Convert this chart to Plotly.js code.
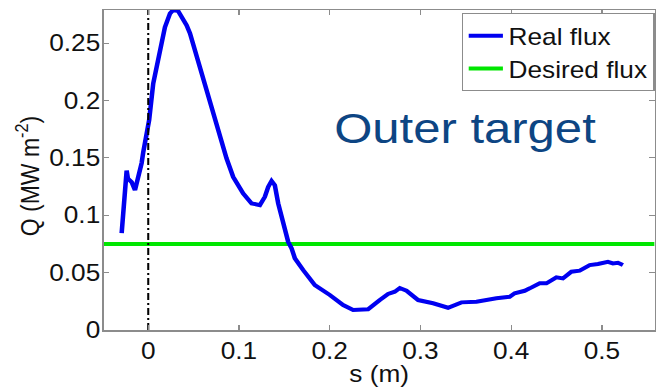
<!DOCTYPE html>
<html>
<head>
<meta charset="utf-8">
<script src="https://cdn.plot.ly/plotly-3.0.1.min.js"></script>
<style>
  html, body { margin: 0; padding: 0; background: #fff; overflow: hidden; }
  /* figure is laid out narrower and widened horizontally, giving the
     broad Arial lettering of the exported figure */
  #plot { width: 577px; height: 387px; transform: scaleX(1.1404); transform-origin: 0 0; }
</style>
</head>
<body>
<div id="plot"></div>
<script>
// Heat flux profile along the outer divertor target
const s = [
  -0.0293, -0.0238, -0.0224, -0.0183, -0.0146, -0.011, -0.0073, -0.0055, -0.0018, 0.001,
  0.0055, 0.0129, 0.0184, 0.024, 0.0275, 0.033, 0.0368, 0.0423, 0.046, 0.0514,
  0.0606, 0.068, 0.077, 0.0863, 0.0936, 0.1046, 0.1139, 0.123, 0.1285, 0.1322,
  0.1359, 0.1395, 0.1432, 0.1487, 0.1542, 0.158, 0.1616, 0.1707, 0.1836, 0.2001,
  0.2148, 0.2258, 0.2423, 0.2552, 0.2643, 0.2717, 0.2772, 0.2846, 0.2974, 0.3139,
  0.3304, 0.3452, 0.3617, 0.3837, 0.3983, 0.4038, 0.4149, 0.4204, 0.4314, 0.4388,
  0.4498, 0.457, 0.4663, 0.4755, 0.4865, 0.4956, 0.5066, 0.5121, 0.5176, 0.5231
];
const realFlux = [
  0.0845, 0.139, 0.132, 0.129, 0.122, 0.132, 0.1455, 0.155, 0.1716, 0.183,
  0.215, 0.244, 0.264, 0.276, 0.279, 0.278, 0.273, 0.2657, 0.2587, 0.244,
  0.2207, 0.2003, 0.1742, 0.1496, 0.1335, 0.119, 0.1104, 0.1089, 0.1161, 0.1248,
  0.130, 0.1263, 0.1104, 0.093, 0.0769, 0.0712, 0.0625, 0.0523, 0.0392, 0.0305,
  0.0218, 0.0174, 0.018, 0.0261, 0.0314, 0.0334, 0.0366, 0.0342, 0.0261, 0.0233,
  0.0194, 0.0241, 0.0247, 0.0276, 0.029, 0.032, 0.0342, 0.0363, 0.0407, 0.0407,
  0.0459, 0.045, 0.0508, 0.0517, 0.0566, 0.0575, 0.0595, 0.0581, 0.0586, 0.0566
];
const desiredFlux = 0.075;
const xRange = [-0.049, 0.558];
const yRange = [0, 0.279];
const xTickVals = [0, 0.1, 0.2, 0.3, 0.4, 0.5];
const xTickText = ['0', '0.1', '0.2', '0.3', '0.4', '0.5'];
const yTickVals = [0, 0.05, 0.1, 0.15, 0.2, 0.25];
const yTickText = ['0', '0.05', '0.1', '0.15', '0.2', '0.25'];
const separatrixS = 0;

const FONT = 'Arial, "Liberation Sans", sans-serif';
const AXIS_GREY = '#8c8c8c';
const TEXT = '#111';

const traces = [
  {
    x: xRange, y: [desiredFlux, desiredFlux],
    mode: 'lines', name: 'Desired flux', legendrank: 2,
    line: { color: '#00e600', width: 4 }
  },
  {
    x: s, y: realFlux,
    mode: 'lines', name: 'Real flux', legendrank: 1,
    line: { color: '#0000f0', width: 4 }
  },
  {
    x: [separatrixS, separatrixS], y: yRange,
    mode: 'lines', showlegend: false, hoverinfo: 'skip',
    line: { color: '#000', width: 1.8, dash: '7px,3px,2px,3px' }
  }
];

const axisCommon = {
  showgrid: false, zeroline: false, showline: true, mirror: 'ticks',
  linecolor: AXIS_GREY, linewidth: 1.5,
  ticks: 'inside', ticklen: 5, tickwidth: 1, tickcolor: AXIS_GREY,
  tickfont: { family: FONT, size: 23, color: TEXT }
};

const layout = {
  width: 577, height: 387,
  margin: { l: 91, r: 3, t: 10, b: 57 },
  paper_bgcolor: '#fff', plot_bgcolor: '#fff',
  font: { family: FONT, color: TEXT },
  xaxis: Object.assign({}, axisCommon, {
    range: xRange, tickmode: 'array', tickvals: xTickVals, ticktext: xTickText,
    title: { text: 's (m)', font: { family: FONT, size: 23, color: TEXT }, standoff: 2 }
  }),
  yaxis: Object.assign({}, axisCommon, {
    range: yRange, tickmode: 'array', tickvals: yTickVals, ticktext: yTickText,
    ticklabelstandoff: -3
  }),
  legend: {
    x: 1, xanchor: 'right', y: 0.99, yanchor: 'top',
    bgcolor: '#fff', bordercolor: AXIS_GREY, borderwidth: 1,
    font: { family: FONT, size: 23, color: TEXT },
    tracegroupgap: 0, itemwidth: 30
  },
  annotations: [
    {
      text: 'Q (MW m<sup>-2</sup>)', xref: 'paper', yref: 'paper',
      x: -0.137, y: 0.48, xanchor: 'center', yanchor: 'middle', textangle: -90,
      showarrow: false, font: { family: FONT, size: 23, color: TEXT }
    },
    {
      text: 'Outer target', xref: 'paper', yref: 'paper',
      x: 0.655, y: 0.63, xanchor: 'center', yanchor: 'middle',
      showarrow: false, font: { family: FONT, size: 43, color: '#0d4583' }
    }
  ],
  showlegend: true
};

Plotly.newPlot('plot', traces, layout, { staticPlot: true, displayModeBar: false });
</script>
</body>
</html>
